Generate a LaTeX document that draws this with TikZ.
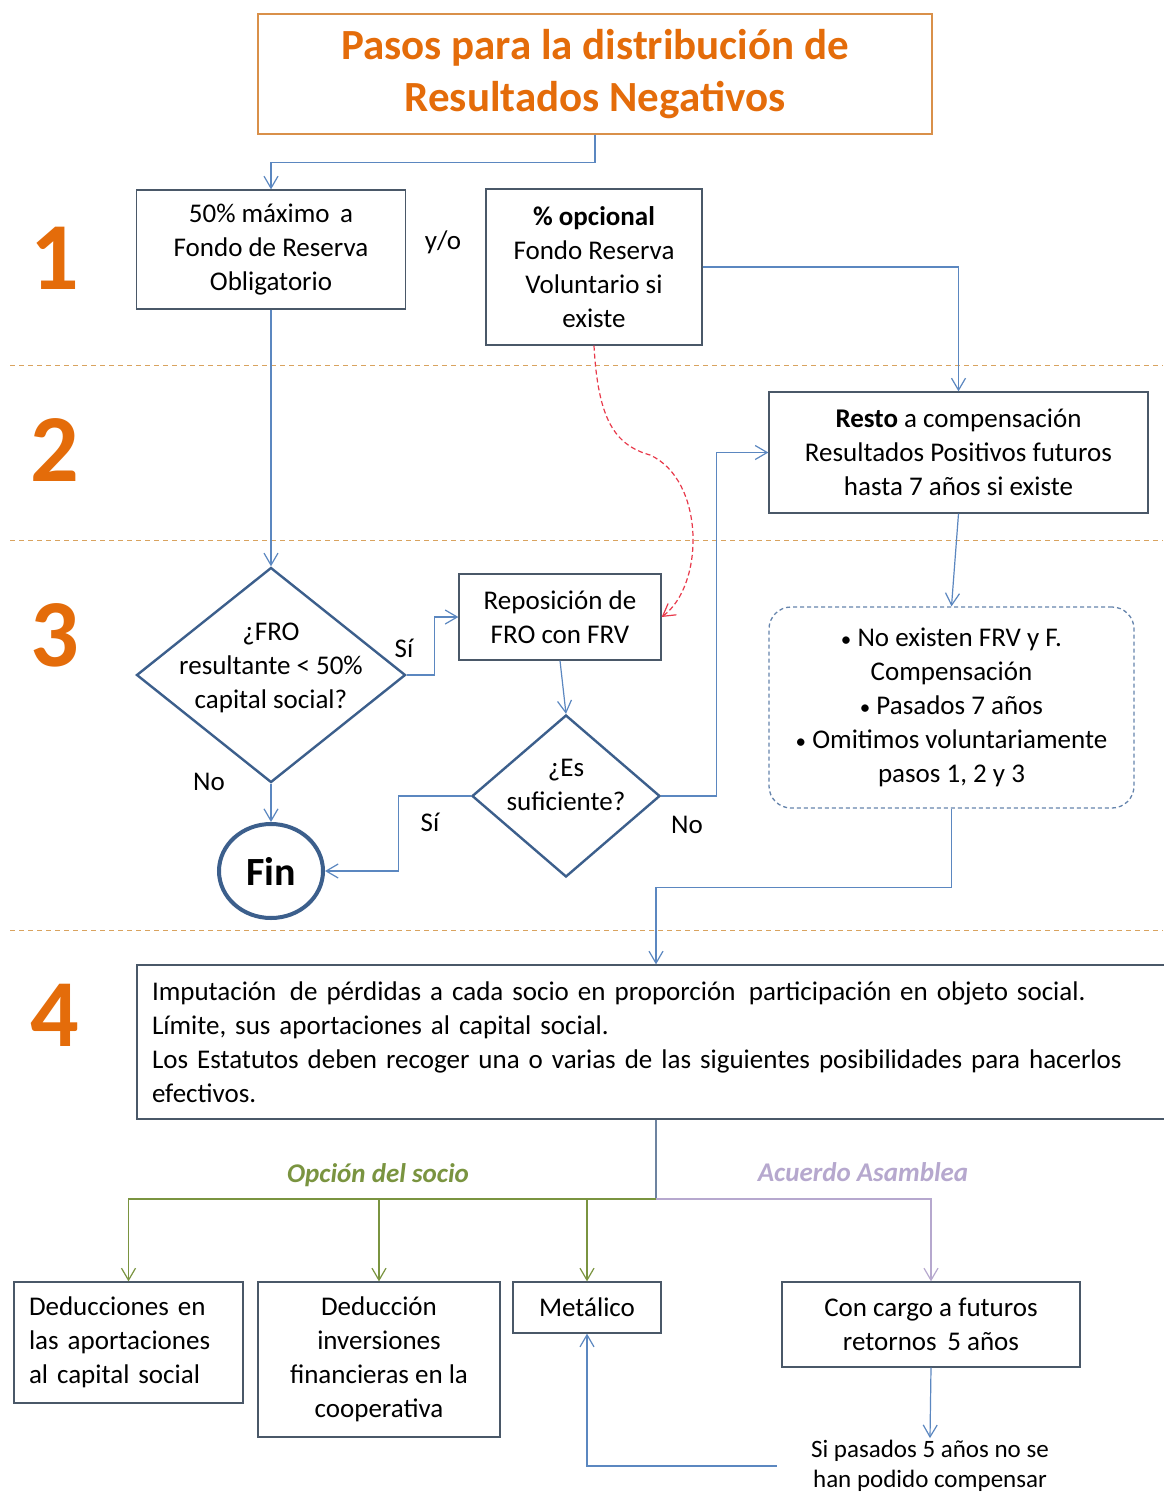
\documentclass[tikz,border=0pt]{standalone}
\usepackage{fontspec}
\setmainfont{Carlito}
\usetikzlibrary{arrows.meta,shapes.geometric}

\definecolor{naranja}{HTML}{E46C0A}
\definecolor{bordetit}{HTML}{D9904A}
\definecolor{borde}{HTML}{4A5868}
\definecolor{linea}{HTML}{5B87C0}
\definecolor{rombo}{HTML}{3C5F8C}
\definecolor{separa}{HTML}{D9A35F}
\definecolor{rojo}{HTML}{E8394A}
\definecolor{verde}{HTML}{7A9440}
\definecolor{lila}{HTML}{B6A8CE}

\newcommand{\vineta}{{\fontsize{21}{34}\selectfont\textbullet}}

\begin{document}
\begin{tikzpicture}[x=1pt, y=-1pt, >={Straight Barb[length=12pt,width=14pt]},
    txt/.style={font=\fontsize{27}{34}\selectfont, align=center},
    caja/.style={txt, draw=borde, line width=1.3pt, inner sep=0pt},
    decision/.style={diamond, draw=rombo, line width=2.4pt, inner sep=0pt},
    conn/.style={->, draw=linea, line width=1.2pt},
    sep/.style={draw=separa, dashed, line width=1pt, dash pattern=on 5pt off 4pt},
    numero/.style={font=\fontsize{96}{96}\selectfont\bfseries, text=naranja}]
    \useasboundingbox[fill=white] (0,0) rectangle (1163,1497);

    \node[draw=bordetit, line width=1.3pt, minimum width=674, minimum height=120, align=center,
        font=\fontsize{43}{52}\selectfont\bfseries, text=naranja] (title) at (595,74)
        {Pasos para la distribución de\\Resultados Negativos};

    \node[numero] (n1) at (55,258) {1};
    \node[numero] (n2) at (55,450) {2};
    \node[numero] (n3) at (55,635) {3};
    \node[numero] (n4) at (55,1015) {4};

    \draw[sep] (10,365) -- (1163,365);
    \draw[sep] (10,540) -- (1163,540);
    \draw[sep] (10,930) -- (1163,930);

    \node[caja, minimum width=269, minimum height=119] (fro) at (271,249.5)
        {50\% máximo\, a\\Fondo de Reserva\\Obligatorio};
    \node[txt] (yo) at (443,242) {y/o};
    \node[caja, minimum width=216, minimum height=156] (frv) at (594,267)
        {\textbf{\% opcional}\\Fondo Reserva\\Voluntario si\\existe};
    \node[caja, minimum width=379, minimum height=121] (resto) at (958.5,452.5)
        {\textbf{Resto} a compensación\\Resultados Positivos futuros\\hasta 7 años si existe};

    \node[decision, minimum width=269, minimum height=215] (chkfro) at (271,675) {};
    \node[txt] (chkfrotxt) at (271,668) {¿FRO\\resultante < 50\%\\capital social?};
    \node[caja, minimum width=202, minimum height=86] (repos) at (560,617)
        {Reposición de\\FRO con FRV};
    \node[decision, minimum width=188, minimum height=162] (chkok) at (566,796) {};
    \node[txt] (chkoktxt) at (566,785) {¿Es\\suficiente?};
    \node[ellipse, draw=rombo, line width=4pt, minimum width=104, minimum height=94,
        font=\fontsize{40}{40}\selectfont\bfseries] (fin) at (271,871) {Fin};

    \node[txt] (si1) at (404,648) {Sí};
    \node[txt] (no1) at (209,782) {No};
    \node[txt] (si2) at (430,822) {Sí};
    \node[txt] (no2) at (687,825) {No};

    \node[caja, draw=linea!70!gray, dashed, dash pattern=on 4pt off 3pt, rounded corners=22pt,
        minimum width=365, minimum height=201] (omit) at (951.5,707.5)
        {\vineta\ No existen FRV y F.\\Compensación\\\vineta\ Pasados 7 años\\\vineta\ Omitimos voluntariamente\\pasos 1, 2 y 3};

    \node[caja, align=left, text width=1016, minimum width=1046, minimum height=154, inner xsep=15pt] (imput) at (660,1042)
        {Imputación\, de pérdidas a cada socio en proporción\, participación en objeto social.\\
        Límite, sus aportaciones al capital social.\\
        Los Estatutos deben recoger una o varias de las siguientes posibilidades para hacerlos\\
        efectivos.};

    \node[font=\fontsize{27}{34}\selectfont\bfseries\itshape, text=verde] (opcion) at (378,1175) {Opción del socio};
    \node[font=\fontsize{27}{34}\selectfont\bfseries\itshape, text=lila] (acuerdo) at (863,1172) {Acuerdo Asamblea};

    \node[caja, align=left, minimum width=229, minimum height=121, text width=199] (dedap) at (128.5,1342.5)
        {Deducciones en\\las aportaciones\\al capital social};
    \node[caja, minimum width=242, minimum height=155] (dedinv) at (379,1359.5)
        {Deducción\\inversiones\\financieras en la\\cooperativa};
    \node[caja, minimum width=148, minimum height=51] (metal) at (587,1307.5) {Metálico};
    \node[caja, minimum width=298, minimum height=85] (cargo) at (931,1324.5)
        {Con cargo a futuros\\retornos\, 5 años};
    \node[font=\fontsize{25}{30}\selectfont, align=center, inner sep=2pt] (sipas) at (930,1466)
        {Si pasados 5 años no se\\han podido compensar};

    \coordinate (split) at (656,1199);

    \draw[conn] (title.south) -- ++(0,28) -| (fro.north);
    \draw[conn] (frv.east) -| (resto.north);
    \draw[conn] (fro.south) -- (chkfro.north);
    \draw[conn] (chkfro.east) -- ++(28,0) |- (repos.west);
    \draw[conn] (chkfro.south) -- (fin.north);
    \draw[conn] (repos.south) -- (chkok.north);
    \draw[conn] (chkok.west) -- ++(-72,0) |- (fin.east);
    \draw[conn] (chkok.east) -- ++(55,0) |- (resto.west);
    \draw[->, draw=rojo, dashed, dash pattern=on 5pt off 3pt, line width=1.2pt]
        (frv.south) .. controls (598,420) and (615,445) .. (650,455)
        .. controls (705,480) and (705,585) .. (repos.east);
    \draw[conn] (resto.south) -- (omit.north);
    \draw[conn] (omit.south) -- ++(0,79) -| (split |- imput.north);
    \draw[draw=linea!50!gray, line width=1.2pt] (split |- imput.south) -- (split);
    \draw[conn, draw=verde] (split) -| (dedap.north);
    \draw[conn, draw=verde] (split) -| (dedinv.north);
    \draw[conn, draw=verde] (split) -| (metal.north);
    \draw[conn, draw=lila] (split) -| (cargo.north);
    \draw[conn] (cargo.south) -- (sipas.north);
    \draw[conn] ([xshift=-32pt]sipas.west) -| (metal.south);
\end{tikzpicture}
\end{document}
